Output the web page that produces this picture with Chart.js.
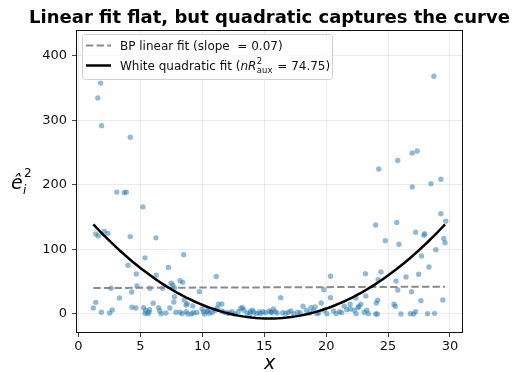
<!DOCTYPE html>
<html>
<head>
<meta charset="utf-8">
<script src="https://cdn.jsdelivr.net/npm/chart.js@4/dist/chart.umd.min.js"></script>
<style>
  html, body { margin: 0; padding: 0; background: #fff; }
  #wrap { width: 515px; height: 372px; }
</style>
</head>
<body>
<div id="wrap"><canvas id="residChart" width="515" height="372"></canvas></div>
<script>
// Squared residuals against x
const residX = [
  1.79, 1.56, 1.87, 4.18, 3.09, 3.70, 3.86, 5.20, 1.40, 1.60, 2.09, 2.37, 4.18, 6.25,
  5.37, 8.50, 4.00, 4.67, 7.27, 6.28, 11.13, 7.48, 7.62, 8.20, 8.42, 4.72, 2.63, 4.30,
  5.77, 6.79, 7.75, 3.30, 1.40, 1.20, 1.85, 2.52, 2.73, 4.32, 4.64,
  5.26, 5.42, 5.37, 5.59, 5.69, 5.74, 6.03, 6.47, 6.57, 6.68, 7.06, 7.38, 7.70, 7.86,
  9.77, 7.75, 8.53, 8.77, 8.69, 9.23, 11.30, 11.58, 13.25, 13.10,
  8.20, 8.37, 8.69, 8.83, 9.12, 9.28, 9.98, 10.10, 10.20, 10.40, 10.60, 10.80, 11.05, 11.20,
  11.56, 11.80, 12.20, 12.40, 12.60, 12.90, 13.36, 13.63, 13.84, 14.16, 14.38, 14.60,
  14.90, 15.10, 15.40, 15.56,
  20.35, 16.33, 19.82, 20.35, 19.60, 18.13, 18.78, 19.10, 21.46, 21.94, 22.64, 22.80, 22.40,
  15.74, 15.88, 15.58, 16.04, 16.73, 16.95, 17.38, 17.70, 17.90, 18.40, 18.66, 18.98, 19.26,
  19.85, 20.06, 20.60, 20.80, 21.08, 21.67, 21.94, 22.26, 22.42, 22.58, 23.07, 23.28,
  24.78, 25.88, 27.90, 29.50, 29.60, 28.86, 27.70, 28.30, 24.43, 24.20, 26.45, 27.47, 25.64,
  23.17, 25.78, 26.90, 23.20, 24.17, 24.05, 27.65, 29.42, 25.48, 25.58,
  23.40, 24.00, 24.13, 26.04, 26.80, 27.06, 27.22, 28.19, 28.75,
  28.70, 24.25, 25.78, 26.95, 27.35, 29.26, 28.46, 26.95, 29.26, 29.66, 24.00, 25.70, 27.22, 27.95,
  12.05, 13.90, 14.70, 16.50, 17.15, 10.45, 9.55, 19.40, 21.25, 14.05
];
const residSq = [
  358, 335, 292, 274, 189, 188, 189, 166, 124, 121, 128, 125, 120, 118,
  87, 92, 75.5, 62, 72, 60, 58, 47.6, 44.5, 51.6, 49, 43.4, 39.8, 34,
  39.8, 39.8, 40.3, 24.8, 18, 9.3, 2.6, 1.5, 6.2, 10.4, 9.3,
  9.8, 5.7, 1, 0.5, 2.6, 6.7, 16.6, 9.8, 4.6, 0.5, 1.5, 9.3, 18.6, 2.6,
  34.6, 26.8, 21.7, 16, 14, 12.4, 15, 15.5, 9.8, 8.8,
  2.6, 0.5, 3.6, 0, 0, 2, 7.8, 3.6, 0, 3.6, 1, 2.6, 5.7, 8.8,
  4.6, 2.6, 1.5, 3.6, 0, 3.6, 5.7, 1.5, 0, 2.6, 0.5, 3.1,
  3.6, 2, 4.6, 2.6,
  58.4, 25.3, 37.7, 25.3, 17, 11.9, 9.8, 10.9, 11.9, 15, 11.9, 15, 24.8,
  7.8, 3.6, 2.6, 1.5, 1, 2.6, 0.5, 2.6, 1.5, 5.7, 1.5, 4.6, 0.5,
  5.7, 0.5, 4.6, 0.5, 3.6, 6.7, 7.8, 5.7, 0.5, 9.8, 2.6, 5.7,
  113.7, 108, 122, 117, 110.5, 99.7, 90, 73, 65, 53, 57.4, 61.5, 51,
  62.5, 37.2, 34.6, 28, 21.2, 17, 20.6, 21.7, 15, 11.9,
  0.5, 0, 0, 0, 0.5, 0, 3.6, 0.5, 1,
  368.5, 224.8, 238, 249.6, 252.7, 209, 202, 197, 155.5, 144, 138, 142, 126.7, 124.5,
  1.2, 4.2, 0.8, 1.9, 4.8, 6.3, 2.2, 1.8, 2.1, 6.0
];

// Fitted auxiliary regressions (coefficients: constant, x, x^2)
const linCoef = [40.2, 0.07];
const quadCoef = [164.7, -22.3, 0.724];
const fitRange = [1.2, 29.6];

const xTicks = [0, 5, 10, 15, 20, 25, 30];
const yTicks = [0, 100, 200, 300, 400];

const legendLabels = ['BP linear fit (slope  = 0.07)', 'White quadratic fit ('];
const titleText = 'Linear fit flat, but quadratic captures the curve';

const points = residX.map((x, i) => ({ x: x, y: residSq[i] }));

const linLine = fitRange.map(x => ({ x: x, y: linCoef[0] + linCoef[1] * x }));
const quadLine = [];
for (let k = 0; k <= 80; k++) {
  const x = fitRange[0] + (fitRange[1] - fitRange[0]) * k / 80;
  quadLine.push({ x: x, y: quadCoef[0] + quadCoef[1] * x + quadCoef[2] * x * x });
}

const FONT = '"DejaVu Sans", sans-serif';

// Frame, title, legend and axis labels drawn on top
const decor = {
  id: 'decor',
  beforeDraw(chart) {
    const c = chart.ctx;
    c.save();
    c.fillStyle = '#fff';
    c.fillRect(0, 0, chart.width, chart.height);
    c.restore();
  },
  afterDraw(chart) {
    const c = chart.ctx;
    const a = chart.chartArea;
    c.save();

    // spines
    c.strokeStyle = '#111';
    c.lineWidth = 1;
    c.strokeRect(Math.round(a.left) + 0.5, Math.round(a.top) + 0.5,
      Math.round(a.right - a.left) - 1, Math.round(a.bottom - a.top) - 1);

    // title
    c.fillStyle = '#000';
    c.font = 'bold 18px ' + FONT;
    c.textAlign = 'center';
    c.textBaseline = 'alphabetic';
    c.fillText(titleText, (a.left + a.right) / 2, 23);

    // legend box
    const bx = 82, by = 34, bw = 250, bh = 45;
    c.beginPath();
    c.roundRect(bx + 0.5, by + 0.5, bw, bh, 3);
    c.fillStyle = 'rgba(255,255,255,0.8)';
    c.fill();
    c.strokeStyle = '#d0d0d0';
    c.lineWidth = 1;
    c.stroke();

    c.lineWidth = 2;
    c.strokeStyle = '#8a8a8a';
    c.setLineDash([7.4, 3.2]);
    c.beginPath();
    c.moveTo(86, 45.5);
    c.lineTo(111, 45.5);
    c.stroke();
    c.setLineDash([]);
    c.strokeStyle = '#000';
    c.lineWidth = 2.5;
    c.beginPath();
    c.moveTo(86, 65.5);
    c.lineTo(111, 65.5);
    c.stroke();

    c.fillStyle = '#111';
    c.textAlign = 'left';
    c.font = '12px ' + FONT;
    c.fillText(legendLabels[0], 120, 50);

    let tx = 120;
    const ty = 70;
    c.fillText(legendLabels[1], tx, ty);
    tx += c.measureText(legendLabels[1]).width;
    c.font = 'italic 12px ' + FONT;
    c.fillText('nR', tx, ty);
    tx += c.measureText('nR').width + 0.5;
    c.font = '8.5px ' + FONT;
    c.fillText('2', tx, ty - 6);
    c.fillText('aux', tx, ty + 3);
    tx += c.measureText('aux').width + 1;
    c.font = '12px ' + FONT;
    c.fillText(' = 74.75)', tx, ty);

    // y label: e-hat with subscript i and superscript 2
    c.fillStyle = '#000';
    c.font = 'italic 19px ' + FONT;
    c.fillText('\u00EA', 11, 189);
    c.font = 'italic 12px ' + FONT;
    c.fillText('i', 23, 194);
    c.font = '12px ' + FONT;
    c.fillText('2', 24, 177);

    // x label
    c.font = 'italic 19px ' + FONT;
    c.textAlign = 'center';
    c.fillText('x', (a.left + a.right) / 2, 369);

    c.restore();
  }
};

new Chart(document.getElementById('residChart'), {
  type: 'scatter',
  data: {
    datasets: [
      {
        type: 'scatter',
        label: 'residuals',
        data: points,
        backgroundColor: 'rgba(31,119,180,0.5)',
        borderWidth: 0,
        pointRadius: 2.7,
        order: 3
      },
      {
        type: 'line',
        label: 'BP linear fit',
        data: linLine,
        borderColor: '#8a8a8a',
        borderWidth: 2,
        borderDash: [7.4, 3.2],
        pointRadius: 0,
        fill: false,
        order: 2
      },
      {
        type: 'line',
        label: 'White quadratic fit',
        data: quadLine,
        borderColor: '#000',
        borderWidth: 2.5,
        pointRadius: 0,
        tension: 0,
        fill: false,
        order: 1
      }
    ]
  },
  options: {
    responsive: false,
    animation: false,
    layout: { padding: { left: 0, top: 30, right: 52, bottom: 0 } },
    plugins: {
      legend: { display: false },
      title: { display: false },
      tooltip: { enabled: false }
    },
    scales: {
      x: {
        type: 'linear',
        min: -0.2,
        max: 31.05,
        afterBuildTicks: s => { s.ticks = xTicks.map(v => ({ value: v })); },
        afterFit: s => { s.height = 39; },
        grid: { color: 'rgba(0,0,0,0.1)', lineWidth: 0.8, tickColor: '#111', tickLength: 4 },
        border: { display: false },
        ticks: { color: '#111', font: { family: FONT, size: 13 }, padding: 2, maxRotation: 0 }
      },
      y: {
        type: 'linear',
        min: -29.5,
        max: 440.3,
        afterBuildTicks: s => { s.ticks = yTicks.map(v => ({ value: v })); },
        afterFit: s => { s.width = 76; },
        grid: { color: 'rgba(0,0,0,0.1)', lineWidth: 0.8, tickColor: '#111', tickLength: 4 },
        border: { display: false },
        ticks: { color: '#111', font: { family: FONT, size: 13 }, padding: 5 }
      }
    }
  },
  plugins: [decor]
});
</script>
</body>
</html>
